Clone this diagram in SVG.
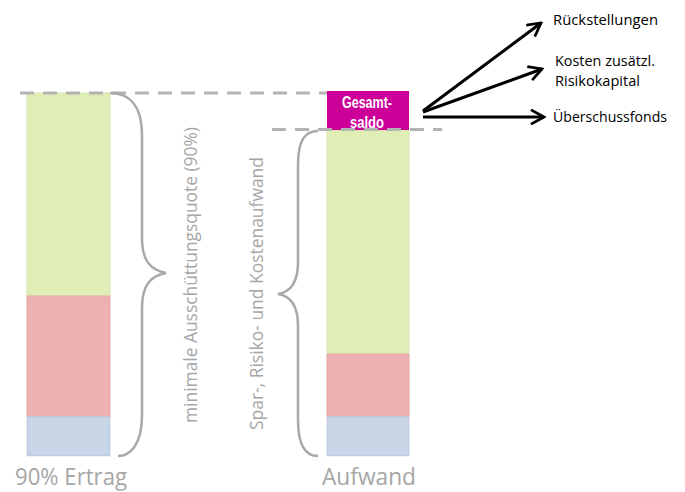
<svg xmlns="http://www.w3.org/2000/svg" width="685" height="492" viewBox="0 0 685 492">
<defs>
<style>
.g{fill:#dfeeb5;stroke:#d6e6ab;stroke-width:1}
.r{fill:#edb1b1;stroke:#e5a8a8;stroke-width:1}
.b{fill:#c8d6e8;stroke:#bccbe0;stroke-width:1.5}
.dash{stroke:#b3b3b3;stroke-width:3;stroke-dasharray:14 9;fill:none}
.brace{stroke:#a9a9a9;stroke-width:2.5;fill:none}
.lab{font-family:"Open Sans","Noto Sans",sans-serif;fill:#a6a6a6}
.out{font-family:"Open Sans","Noto Sans",sans-serif;font-size:14px;fill:#000}
.arr{stroke:#000;stroke-width:3;fill:none}
.gs{font-family:"Liberation Sans",Arial,sans-serif;font-weight:bold;font-size:16.5px;fill:#fff}
</style>
<marker id="ah" viewBox="0 0 12 12" refX="10.5" refY="6" markerWidth="5.5" markerHeight="5.5" orient="auto" markerUnits="strokeWidth">
<path d="M1,0.8 L10.5,6 L1,11.2" fill="none" stroke="#000" stroke-width="2"/>
</marker>
</defs>
<rect width="685" height="492" fill="#fff"/>
<g id="bar-ertrag">
<rect class="g" x="27" y="93" width="83" height="203"/>
<rect class="r" x="27" y="296" width="83" height="121"/>
<rect class="b" x="27.5" y="417" width="82" height="38.5"/>
<text class="lab" x="71" y="485" font-size="24" text-anchor="middle" textLength="112" lengthAdjust="spacingAndGlyphs">90% Ertrag</text>
</g>
<g id="bar-aufwand">
<rect class="g" x="327" y="130" width="82" height="224"/>
<rect class="r" x="327" y="354" width="82" height="63"/>
<rect class="b" x="327.5" y="417" width="81" height="38.5"/>
<text class="lab" x="369" y="485" font-size="24" text-anchor="middle" textLength="94" lengthAdjust="spacingAndGlyphs">Aufwand</text>
</g>
<g id="gesamtsaldo">
<rect x="327" y="91" width="82" height="39" fill="#cc0099"/>
<text class="gs" x="367" y="108" text-anchor="middle" textLength="50" lengthAdjust="spacingAndGlyphs">Gesamt-</text>
<text class="gs" x="367" y="128" text-anchor="middle" textLength="34" lengthAdjust="spacingAndGlyphs">saldo</text>
</g>
<g id="guides">
<line class="dash" x1="20" y1="93" x2="327" y2="93"/>
<line class="dash" x1="272" y1="129.5" x2="442" y2="129.5"/>
</g>
<g id="brace-left">
<path class="brace" d="M110,93 C127,93 142,103 142,135 L142,238 C142,260 150,270 166,273 C150,276 142,286 142,308 L142,415 C142,445 130,456 118,456"/>
<text class="lab" transform="translate(197,275) rotate(-90)" font-size="18" text-anchor="middle" textLength="296" lengthAdjust="spacingAndGlyphs">minimale Ausschüttungsquote (90%)</text>
</g>
<g id="brace-right">
<path class="brace" d="M318,131 C305,131 298,140 298,165 L298,262 C298,282 291,292 278,294 C291,296 298,306 298,326 L298,420 C298,445 305,456 318,456"/>
<text class="lab" transform="translate(263,293.5) rotate(-90)" font-size="18" text-anchor="middle" textLength="273" lengthAdjust="spacingAndGlyphs">Spar-, Risiko- und Kostenaufwand</text>
</g>
<g id="connectors">
<line class="arr" x1="423" y1="111" x2="541" y2="23" marker-end="url(#ah)"/>
<line class="arr" x1="423" y1="112" x2="542" y2="69" marker-end="url(#ah)"/>
<line class="arr" x1="423" y1="117" x2="544" y2="117" marker-end="url(#ah)"/>
</g>
<g id="targets">
<text class="out" x="553" y="25" textLength="105" lengthAdjust="spacingAndGlyphs">Rückstellungen</text>
<text class="out" x="555" y="66" textLength="100" lengthAdjust="spacingAndGlyphs">Kosten zusätzl.</text>
<text class="out" x="555" y="86" textLength="85" lengthAdjust="spacingAndGlyphs">Risikokapital</text>
<text class="out" x="553" y="122" textLength="114" lengthAdjust="spacingAndGlyphs">Überschussfonds</text>
</g>
</svg>
